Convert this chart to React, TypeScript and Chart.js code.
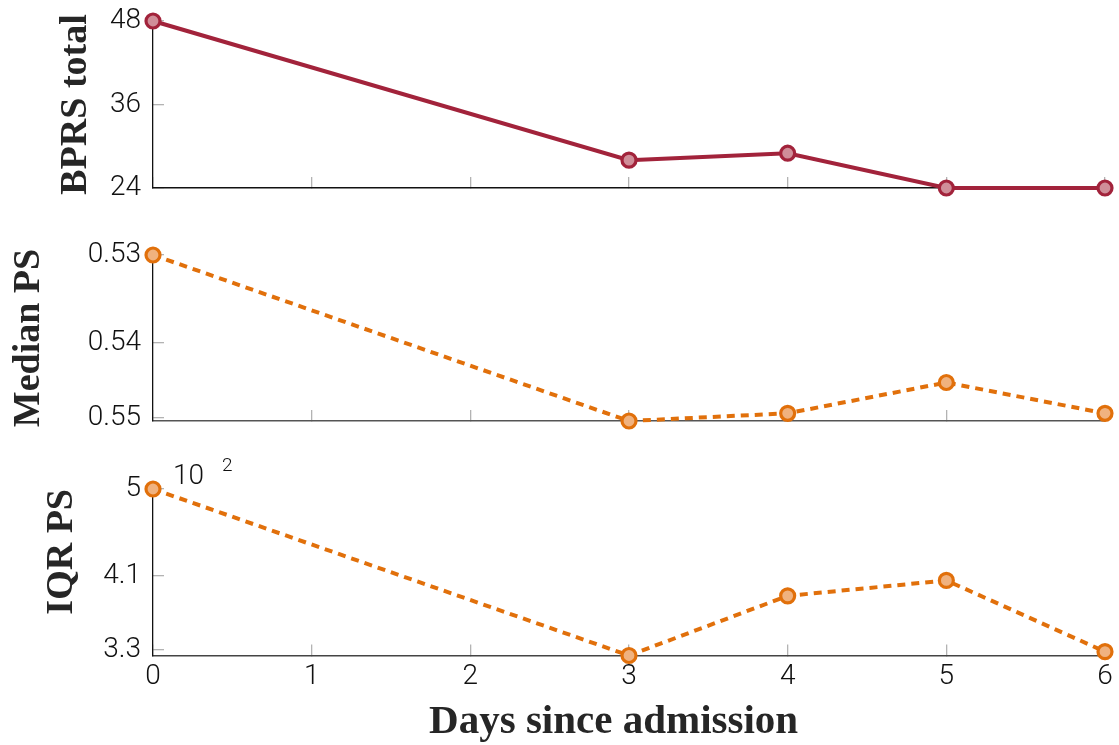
import React, { useEffect, useRef } from "react";
import { Chart, registerables } from "chart.js";

Chart.register(...registerables);

// ---- data ----
const days = [0, 3, 4, 5, 6];
const dayTicks = [0, 1, 2, 3, 4, 5, 6];
const bprsTotal = [48, 28, 29, 24, 24];
const bprsTicks = [24, 36, 48];
const medianPS = [0.534, 0.5491, 0.5484, 0.5456, 0.5484];
const medianTicks = [0.534, 0.542, 0.5488];
const iqrPS = [5.0, 3.27, 3.89, 4.05, 3.31];
const iqrTicks = [3.33, 4.1, 5.0];

const TICK_FAMILY = "Roboto, 'Liberation Sans', sans-serif";
const TICK_FONT = { family: TICK_FAMILY, size: 28, weight: "300" as any };
const TITLE_FONT_FAMILY = "'Liberation Serif', 'DejaVu Serif', serif";

type Panel = {
  key: string;
  top: number;
  height: number;
  padTop: number;
  xHeight: number;
  values: number[];
  ticks: number[];
  min: number;
  max: number;
  reverse: boolean;
  fmt: (v: number) => string;
  title: string;
  titlePad: number;
  titleAlign: "center" | "end";
  color: string;
  fill: string;
  dash: number[];
  showX: boolean;
  axisColor: string;
  multiplier?: boolean;
};

const panels: Panel[] = [
  {
    key: "bprs",
    top: 0,
    height: 220,
    padTop: 21,
    xHeight: 32,
    values: bprsTotal,
    ticks: bprsTicks,
    min: 24,
    max: 48,
    reverse: false,
    fmt: (v) => String(Math.round(v)),
    title: "BPRS total",
    titlePad: 53,
    titleAlign: "center",
    color: "#a2233b",
    fill: "#d08e99",
    dash: [],
    showX: false,
    axisColor: "#111",
  },
  {
    key: "median",
    top: 220,
    height: 230,
    padTop: 35,
    xHeight: 29,
    values: medianPS,
    ticks: medianTicks,
    min: 0.534,
    max: 0.5491,
    reverse: true,
    fmt: (v) => v.toFixed(2),
    title: "Median PS",
    titlePad: 6,
    titleAlign: "center",
    color: "#e1700b",
    fill: "#f0b27f",
    dash: [8, 6],
    showX: false,
    axisColor: "#555",
  },
  {
    key: "iqr",
    top: 450,
    height: 295,
    padTop: 39,
    xHeight: 89.5,
    values: iqrPS,
    ticks: iqrTicks,
    min: 3.27,
    max: 5.0,
    reverse: false,
    fmt: (v) => String(parseFloat(v.toFixed(1))),
    title: "IQR PS",
    titlePad: 39,
    titleAlign: "end",
    color: "#e1700b",
    fill: "#f0b27f",
    dash: [8, 6],
    showX: true,
    axisColor: "#444",
    multiplier: true,
  },
];

const multiplierPlugin = {
  id: "multiplier",
  afterDraw(chart: any) {
    const { ctx, chartArea } = chart;
    ctx.save();
    ctx.fillStyle = "#111";
    ctx.textBaseline = "alphabetic";
    ctx.textAlign = "left";
    ctx.font = `300 28px ${TICK_FAMILY}`;
    ctx.fillText("10", chartArea.left + 20, chartArea.top - 5);
    ctx.font = `300 19px ${TICK_FAMILY}`;
    ctx.fillText("2", chartArea.left + 69, chartArea.top - 18);
    ctx.restore();
  },
};

function makeConfig(p: Panel): any {
  return {
    type: "line",
    data: {
      datasets: [
        {
          data: days.map((d, i) => ({ x: d, y: p.values[i] })),
          borderColor: p.color,
          backgroundColor: p.fill,
          pointBackgroundColor: p.fill,
          pointBorderColor: p.color,
          borderWidth: 4,
          borderDash: p.dash,
          pointRadius: 7,
          pointHoverRadius: 7,
          pointBorderWidth: 3.2,
          tension: 0,
          fill: false,
          clip: false,
        },
      ],
    },
    options: {
      animation: false,
      responsive: true,
      maintainAspectRatio: false,
      events: [],
      layout: { padding: { left: 0, right: 14, top: p.padTop, bottom: 0 } },
      plugins: { legend: { display: false }, tooltip: { enabled: false } },
      scales: {
        x: {
          type: "linear",
          min: 0,
          max: 6,
          afterBuildTicks: (s: any) => {
            s.ticks = dayTicks.map((v) => ({ value: v }));
          },
          afterFit: (s: any) => {
            s.height = p.xHeight;
            s.paddingLeft = 0;
            s.paddingRight = 0;
            s.paddingTop = 0;
            s.paddingBottom = 0;
          },
          grid: {
            drawOnChartArea: false,
            drawTicks: true,
            tickLength: -11,
            color: "#b3b3b3",
            tickColor: "#b3b3b3",
            lineWidth: 1.3,
          },
          border: { color: p.axisColor, width: 1.4 },
          ticks: {
            display: p.showX,
            padding: 16,
            color: "#111",
            font: TICK_FONT,
            callback: (v: number) => String(v),
          },
          title: {
            display: p.showX,
            text: "Days since admission\u00A0\u00A0\u00A0",
            color: "#262626",
            font: { family: TITLE_FONT_FAMILY, size: 41, weight: "bold", lineHeight: 1 },
            padding: { top: 0, bottom: 2 },
          },
        },
        y: {
          type: "linear",
          min: p.min,
          max: p.max,
          reverse: p.reverse,
          afterBuildTicks: (s: any) => {
            s.ticks = p.ticks.map((v) => ({ value: v }));
          },
          afterFit: (s: any) => {
            s.width = 153;
            s.paddingLeft = 0;
            s.paddingRight = 0;
            s.paddingTop = 0;
            s.paddingBottom = 0;
          },
          grid: {
            drawOnChartArea: false,
            drawTicks: true,
            tickLength: -11,
            color: "#b3b3b3",
            tickColor: "#b3b3b3",
            lineWidth: 1.3,
          },
          border: { color: "#111", width: 1.3 },
          ticks: {
            padding: 23,
            color: "#111",
            font: TICK_FONT,
            callback: (v: number) => p.fmt(v),
          },
          title: {
            display: true,
            text: p.title,
            align: p.titleAlign,
            color: "#262626",
            font: { family: TITLE_FONT_FAMILY, size: 38, weight: "bold", lineHeight: 1.2 },
            padding: { top: p.titlePad, bottom: 0 },
          },
        },
      },
    },
    plugins: p.multiplier ? [multiplierPlugin] : [],
  };
}

function PanelChart({ p }: { p: Panel }) {
  const ref = useRef<HTMLCanvasElement | null>(null);
  useEffect(() => {
    if (!ref.current) return;
    const chart = new Chart(ref.current, makeConfig(p));
    return () => chart.destroy();
  }, [p]);
  return (
    <div style={{ position: "absolute", left: 0, top: p.top, width: 1119, height: p.height }}>
      <canvas ref={ref} />
    </div>
  );
}

export default function App() {
  return (
    <div style={{ position: "absolute", left: 0, top: 0, width: 1119, height: 745, background: "#fff", overflow: "hidden" }}>
      {panels.map((p) => (
        <PanelChart key={p.key} p={p} />
      ))}
    </div>
  );
}
